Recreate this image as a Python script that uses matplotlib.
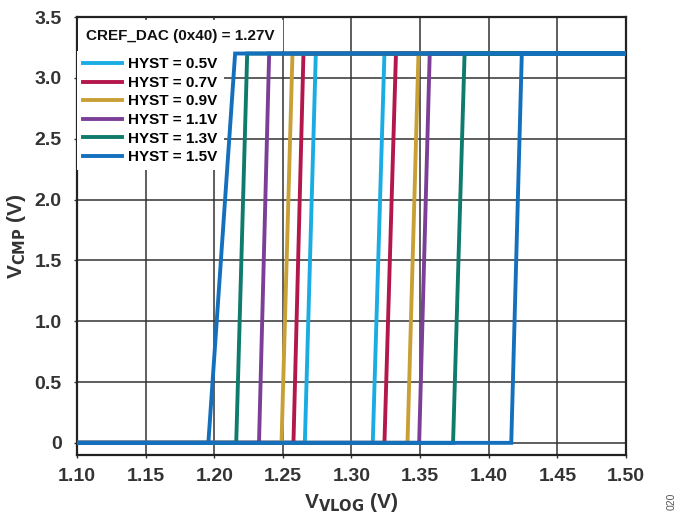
import matplotlib.pyplot as plt
import numpy as np

plt.rcParams['font.family'] = ['Liberation Sans', 'DejaVu Sans']
plt.rcParams['font.weight'] = 'bold'

# comparator output levels
v_low = 0.0
v_high = 3.2
v_start = 1.10
v_end = 1.50

hyst_labels = ['HYST = 0.5V', 'HYST = 0.7V', 'HYST = 0.9V',
               'HYST = 1.1V', 'HYST = 1.3V', 'HYST = 1.5V']
colors = ['#1aade3', '#b3174c', '#c9a035', '#7b3f98', '#0e7b6c', '#1470bc']

# falling edge (bottom x, top x) on the low side
fall_bottom = [1.266, 1.2577, 1.249, 1.2326, 1.216, 1.1957]
fall_top = [1.274, 1.265, 1.257, 1.240, 1.224, 1.2152]
# rising edge (bottom x, top x) on the high side
rise_bottom = [1.3155, 1.324, 1.3408, 1.3493, 1.374, 1.4164]
rise_top = [1.324, 1.3324, 1.3488, 1.357, 1.3824, 1.4241]

fig = plt.figure(figsize=(6.81, 5.16), dpi=100)
ax = fig.add_axes([0.1131, 0.1182, 0.8061, 0.8488])

for i in range(len(hyst_labels)):
    x = [v_start, rise_bottom[i], rise_top[i], v_end, fall_top[i], fall_bottom[i], v_start]
    y = [v_low, v_low, v_high, v_high, v_high, v_low, v_low]
    ax.plot(x, y, color=colors[i], lw=2.8, label=hyst_labels[i], zorder=3,
            solid_joinstyle='miter')

ax.set_xlim(1.10, 1.50)
ax.set_ylim(-0.1, 3.5)
ax.set_xticks(np.arange(1.10, 1.501, 0.05))
ax.set_xticklabels(['%.2f' % v for v in np.arange(1.10, 1.501, 0.05)])
ax.set_yticks(np.arange(0, 3.51, 0.5))
ax.set_yticklabels(['0'] + ['%.1f' % v for v in np.arange(0.5, 3.51, 0.5)])
ax.grid(True, color='#333333', lw=1.1)
ax.set_axisbelow(True)
for s in ax.spines.values():
    s.set_linewidth(1.6)
    s.set_color('#222222')
ax.tick_params(length=2, width=1, colors='#333333', labelsize=14)
ax.tick_params(axis='y', pad=9)
ax.tick_params(axis='x', pad=7)
for t in ax.get_xticklabels() + ax.get_yticklabels():
    t.set_fontweight('bold')

ax.set_xlabel('V$_{\\mathbf{VLOG}}$ (V)', fontsize=15, fontweight='bold', color='#333333', labelpad=5)
ax.set_ylabel('V$_{\\mathbf{CMP}}$ (V)', fontsize=15, fontweight='bold', color='#333333', labelpad=5)

ax.text(0.0164, 0.957, 'CREF_DAC (0x40) = 1.27V', transform=ax.transAxes,
        fontsize=11, fontweight='bold', color='#111111', va='center', ha='left', zorder=2.6,
        bbox=dict(boxstyle='square,pad=0.55', fc='white', ec='none'))

leg = ax.legend(loc='upper left', bbox_to_anchor=(0.0, 0.922), frameon=True, fancybox=False,
                edgecolor='none', facecolor='white', framealpha=1,
                handlelength=2.55, handletextpad=0.4, labelspacing=0.3,
                borderpad=0.4, borderaxespad=0.0, prop={'weight': 'bold', 'size': 11})
leg.set_zorder(2.5)

fig.text(0.986, 0.012, '020', rotation=90, fontsize=7.5, color='#555555', ha='center', va='bottom',
         fontweight='normal')

fig.savefig('out.png', dpi=100)
